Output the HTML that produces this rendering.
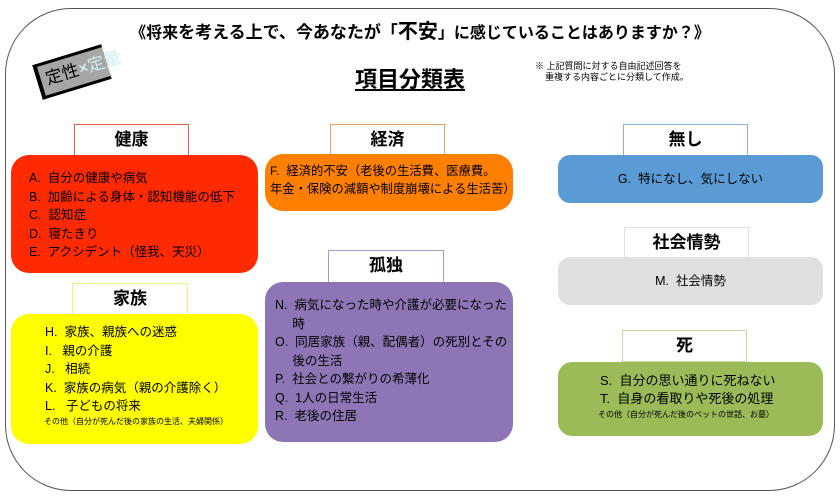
<!DOCTYPE html>
<html><head><meta charset="utf-8"><style>
body{margin:0;width:840px;height:499px;background:#fff;position:relative;overflow:hidden;font-family:"Liberation Sans","Noto Sans CJK JP",sans-serif;color:#000}
.a{position:absolute;box-sizing:border-box}
.frame{left:5px;top:8px;width:830px;height:483px;border:1.5px solid #555;border-radius:66px}
.lbl{background:#fff;border:1px solid;text-align:center;font-size:17px;font-weight:bold;line-height:30px}
.box{border-radius:18px;font-size:12.5px;line-height:17.5px}
.t{position:absolute;white-space:nowrap}
</style></head><body>
<div class="a frame"></div>
<div class="t" style="left:0;width:840px;top:15px;text-align:center;font-size:16px;font-weight:bold">《将来<span style="font-size:17px">を考える上で、今あなたが「</span><span style="font-size:20px">不安</span>」に感じていることはありますか？》</div>
<div class="a" style="left:36px;top:54px;width:72px;height:36px;background:#a6a6a6;transform:rotate(-17deg);border-left:4px solid #000;border-top:3px solid #000;border-bottom:3px solid #000;font-size:17px;line-height:30px;white-space:nowrap;padding-left:5px">定性<span style="color:#dff">×</span><span style="color:#cdeeee">定量</span></div>
<div class="t" style="left:355px;top:62px;font-size:22px;font-weight:bold;text-decoration:underline">項目分類表</div>
<div class="t" style="left:535px;top:61px;font-size:9px;line-height:11px">※ 上記質問に対する自由記述回答を<br>&nbsp;&nbsp;&nbsp;&nbsp;重複する内容ごとに分類して作成。</div>

<div class="a lbl" style="left:74px;top:124px;width:115px;height:32px;border-color:#e06040">健康</div>
<div class="a box" style="left:11px;top:155px;width:247px;height:118px;background:#ff2a00;padding:14px 0 0 18px;line-height:18.5px">A.&nbsp;&nbsp;自分の健康や病気<br>B.&nbsp;&nbsp;加齢による身体・認知機能の低下<br>C.&nbsp;&nbsp;認知症<br>D.&nbsp;&nbsp;寝たきり<br>E.&nbsp;&nbsp;アクシデント（怪我、天災）</div>

<div class="a lbl" style="left:330px;top:124px;width:115px;height:31px;border-color:#f0a060">経済</div>
<div class="a box" style="left:265px;top:154px;width:248px;height:57px;background:#ff8000;padding:9px 0 0 5px;font-size:12.3px">F.&nbsp;&nbsp;経済的不安（老後の生活費、医療費。<br>年金・保険の減額や制度崩壊による生活苦）</div>

<div class="a lbl" style="left:328px;top:250px;width:116px;height:33px;border-color:#a89cc8">孤独</div>
<div class="a box" style="left:265px;top:282px;width:248px;height:160px;background:#8e76b6;padding:14px 0 0 10px;line-height:18.5px">N.&nbsp;&nbsp;病気になった時や介護が必要になった<br>&nbsp;&nbsp;&nbsp;&nbsp;&nbsp;時<br>O.&nbsp;&nbsp;同居家族（親、配偶者）の死別とその<br>&nbsp;&nbsp;&nbsp;&nbsp;&nbsp;後の生活<br>P.&nbsp;&nbsp;社会との繋がりの希薄化<br>Q.&nbsp;&nbsp;1人の日常生活<br>R.&nbsp;&nbsp;老後の住居</div>

<div class="a lbl" style="left:72px;top:283px;width:116px;height:32px;border-color:#f0f080">家族</div>
<div class="a box" style="left:11px;top:314px;width:247px;height:130px;background:#ffff00;padding:9px 0 0 34px;line-height:18.5px">H.&nbsp;&nbsp;家族、親族への迷惑<br>I.&nbsp;&nbsp;&nbsp;親の介護<br>J.&nbsp;&nbsp;&nbsp;相続<br>K.&nbsp;&nbsp;家族の病気（親の介護除く）<br>L.&nbsp;&nbsp;&nbsp;子どもの将来<br><span style="font-size:8px;margin-left:-1px;line-height:12px;display:block">その他（自分が死んだ後の家族の生活、夫婦関係）</span></div>

<div class="a lbl" style="left:623px;top:124px;width:125px;height:32px;border-color:#8ab0e0">無し</div>
<div class="a box" style="left:558px;top:155px;width:265px;height:48px;background:#5b9bd5;text-align:center;line-height:48px;border-radius:12px">G.&nbsp;&nbsp;特になし、気にしない</div>

<div class="a lbl" style="left:624px;top:227px;width:125px;height:31px;border-color:#e0e0e0">社会情勢</div>
<div class="a box" style="left:558px;top:257px;width:265px;height:48px;background:#e0e0e0;text-align:center;line-height:48px;border-radius:12px">M.&nbsp;&nbsp;社会情勢</div>

<div class="a lbl" style="left:622px;top:330px;width:125px;height:32px;border-color:#c8d8a0">死</div>
<div class="a box" style="left:558px;top:362px;width:265px;height:74px;background:#9bbb59;padding:10px 0 0 42px;font-size:13px;line-height:18px;border-radius:14px">S.&nbsp;&nbsp;自分の思い通りに死ねない<br>T.&nbsp;&nbsp;自身の看取りや死後の処理<br><span style="font-size:8px;line-height:13px;display:block;margin-left:-2px">その他（自分が死んだ後のペットの世話、お墓）</span></div>
</body></html>
